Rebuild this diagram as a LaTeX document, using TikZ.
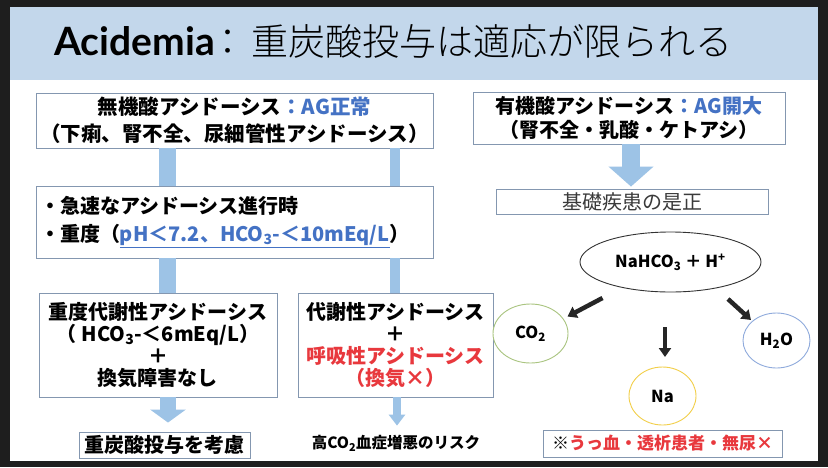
\documentclass[tikz,border=0pt]{standalone}
\usepackage{fontspec}
\usetikzlibrary{shapes.geometric,arrows.meta,calc}
\setmainfont{Noto Sans CJK JP}
\newfontfamily\jp{Noto Sans CJK JP}
\newfontfamily\jplight{Noto Sans CJK JP Light}
\newfontfamily\lato{Lato}
\definecolor{darkc}{HTML}{1E1E1E}
\definecolor{hdrc}{HTML}{C3D7EB}
\definecolor{boxc}{HTML}{8497B0}
\definecolor{barc}{HTML}{9DC3E6}
\definecolor{agblue}{HTML}{4472C4}
\definecolor{redc}{HTML}{E8383D}
\definecolor{co2c}{HTML}{A9C47F}
\definecolor{h2oc}{HTML}{8FAADC}
\definecolor{nac}{HTML}{F2CF4A}
\definecolor{arrc}{HTML}{262626}
\definecolor{grayt}{HTML}{3A3A3A}
\begin{document}
\begin{tikzpicture}[x=1pt,y=-1pt,
  box/.style={draw=boxc, line width=0.9pt, fill=white, inner sep=0pt, align=center,
    font=\jp\bfseries\fontsize{20}{27}\selectfont},
  ell/.style={ellipse, line width=0.9pt, inner sep=0pt, fill=white,
    font=\jp\bfseries\fontsize{16.5}{18}\selectfont},
  bar/.style={draw=barc},
  darr/.style={draw=arrc, line width=4.5pt, -{Triangle[length=9pt,width=12pt]}}
]
\useasboundingbox (0,0) rectangle (828,467);
\fill[darkc] (0,0) rectangle (828,467);
\fill[white] (10,7) rectangle (818,461);
\fill[hdrc] (10,7) rectangle (818,80);

% title
\node[anchor=base west, inner sep=0pt, font=\lato\bfseries\fontsize{39}{39}\selectfont] (t1) at (54,55) {Acidemia};
\node[anchor=base, inner sep=0pt, font=\jplight\fontsize{37}{37}\selectfont] (t2) at (228,55) {：};
\node[anchor=base west, inner sep=0pt, font=\jplight\fontsize{37}{37}\selectfont] (t3) at (251,55) {重炭酸投与は適応が限られる};

% left column
\node[box, minimum width=397pt, minimum height=55pt,
  font=\jp\bfseries\fontsize{20.5}{27}\selectfont] (A) at (234.5,120.5)
  {無機酸アシドーシス\textcolor{agblue}{：AG正常}\\（下痢、腎不全、尿細管性アシドーシス）};
\node[box, minimum width=397pt, minimum height=72pt, text width=389pt, align=left,
  font=\jp\bfseries\fontsize{20}{28}\selectfont] (B) at (234.5,222)
  {・急速なアシドーシス進行時\\・重度（\textcolor{agblue}{\underline{pH＜7.2、HCO\textsubscript{3}-＜10mEq/L}}）};
\node[box, minimum width=238pt, minimum height=104pt,
  font=\jp\bfseries\fontsize{20}{22}\selectfont] (C) at (158,345)
  {重度代謝性アシドーシス\\（ HCO\textsubscript{3}-＜6mEq/L）\\＋\\換気障害なし};
\node[box, minimum width=195pt, minimum height=104pt,
  font=\jp\bfseries\fontsize{20}{22}\selectfont] (D) at (395.5,345)
  {代謝性アシドーシス\\＋\\\textcolor{redc}{呼吸性アシドーシス}\\\textcolor{redc}{（換気×）}};
\node[box, minimum width=171pt, minimum height=26pt] (E) at (164.5,445) {重炭酸投与を考慮};
\node[inner sep=0pt, font=\jp\bfseries\fontsize{15.5}{16}\selectfont] (risk) at (396,443)
  {高CO\textsubscript{2}血症増悪のリスク};

% right column
\node[box, minimum width=312pt, minimum height=52pt,
  font=\jp\bfseries\fontsize{20}{24}\selectfont] (F) at (629,118)
  {有機酸アシドーシス\textcolor{agblue}{：AG開大}\\（腎不全・乳酸・ケトアシ）};
\node[box, minimum width=272pt, minimum height=25pt, text=grayt,
  font=\jp\fontsize{20}{22}\selectfont] (G) at (632,201.5) {基礎疾患の是正};
\node[ell, draw=black!80, minimum width=181pt, minimum height=60pt] (N) at (670.5,262)
  {NaHCO\textsubscript{3} ＋ H\textsuperscript{+}};
\node[ell, draw=co2c, minimum width=75pt, minimum height=59pt] (co2) at (530.5,333.5) {CO\textsubscript{2}};
\node[ell, draw=h2oc, minimum width=67pt, minimum height=55pt] (h2o) at (776.5,340.5) {H\textsubscript{2}O};
\node[ell, draw=nac, minimum width=67pt, minimum height=58pt] (na) at (662.5,396) {Na};
\node[box, minimum width=239pt, minimum height=27pt,
  font=\jp\bfseries\fontsize{17}{20}\selectfont] (H) at (662.5,443.5)
  {※\textcolor{redc}{うっ血・透析患者・無尿×}};

% bars and block arrows
\draw[bar, line width=17pt] (167,0 |- A.south) -- (167,0 |- B.north);
\draw[bar, line width=17pt] (167,0 |- B.south) -- (167,0 |- C.north);
\draw[bar, line width=10pt] (395,0 |- A.south) -- (395,0 |- B.north);
\draw[bar, line width=10pt] (395,0 |- B.south) -- (395,0 |- D.north);
\draw[bar, line width=16pt, -{Triangle[length=13pt,width=35pt]}, shorten >=9pt]
  (168,0 |- C.south) -- (168,0 |- E.north);
\draw[bar, line width=8pt, -{Triangle[length=11pt,width=16pt]}, shorten >=9pt]
  (397,0 |- D.south) -- (397,0 |- risk.north);
\draw[bar, line width=18pt, -{Triangle[length=20pt,width=44pt]}, shorten >=2pt]
  (631,0 |- F.south) -- (631,0 |- G.north);

% reaction arrows
\draw[darr] ($(N)+(-68,36)$) -- ($(co2)+(37,-17)$);
\draw[darr] ($(N)+(-5.5,65)$) -- ($(na)+(2.5,-39)$);
\draw[darr] ($(N)+(57.5,37)$) -- ($(h2o)+(-25.5,-20.5)$);
\end{tikzpicture}
\end{document}
